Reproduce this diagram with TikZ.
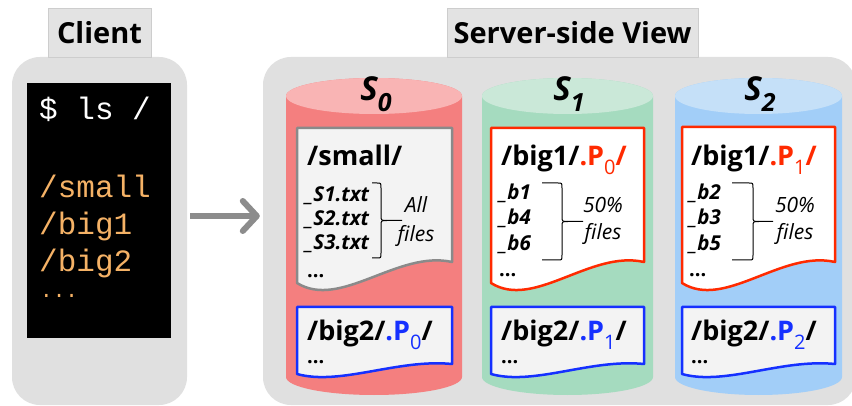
\documentclass[tikz,border=0pt]{standalone}
\usepackage{fontspec}
\setmainfont{Open Sans}
\setmonofont{Liberation Mono}
\usetikzlibrary{arrows.meta}

\definecolor{panel}{HTML}{E0E0E0}
\definecolor{tabfill}{HTML}{E3E3E3}
\definecolor{tabline}{HTML}{CDCDCD}
\definecolor{termtext}{HTML}{F5B266}
\definecolor{arrowgray}{HTML}{8C8C8C}
\definecolor{redtop}{HTML}{F9B4B4}
\definecolor{redbody}{HTML}{F47F7F}
\definecolor{greentop}{HTML}{CAE8D8}
\definecolor{greenbody}{HTML}{A5DBBF}
\definecolor{bluetop}{HTML}{C5E0F8}
\definecolor{bluebody}{HTML}{A2CEF8}
\definecolor{docfill}{HTML}{F3F3F3}
\definecolor{docgray}{HTML}{8A8A8A}
\definecolor{pred}{HTML}{FF2A00}
\definecolor{pblue}{HTML}{1530FF}

% document shape with a wavy lower edge
% #1 style, #2 left x, #3 right x, #4 top y, #5 lower-left y, #6 lower-right y, #7 wave depth
\newcommand\wavedoc[7]{%
  \draw[#1] (#2,#4) -- (#3,#4) -- (#3,#6)
    .. controls ({#2+0.65*(#3-#2)},{#6-0.45*#7}) and ({#2+0.28*(#3-#2)},{#5+#7}) .. (#2,#5) -- cycle;}

% thin curly brace opening to the left
% #1 arm x, #2 vertical x, #3 point x, #4 top y, #5 bottom y
\newcommand\filebrace[5]{%
  \pgfmathsetmacro\bmid{(#4+#5)/2}%
  \draw[line width=1pt] (#1,#4) -- ({#2-4},#4) .. controls (#2,#4) .. (#2,{#4+5})
    -- (#2,{\bmid-5}) .. controls (#2,\bmid) .. ({#2+6},\bmid) -- (#3,\bmid);
  \draw[line width=1pt] (#1,#5) -- ({#2-4},#5) .. controls (#2,#5) .. (#2,{#5-5})
    -- (#2,{\bmid+5}) .. controls (#2,\bmid) .. ({#2+6},\bmid);}

% cylinder: #1 left x, #2 right x, #3 top centre y, #4 bottom centre y, #5 body colour, #6 top colour
\newcommand\drum[6]{%
  \pgfmathsetmacro\drx{(#2-#1)/2}%
  \fill[#5] (#1,#3) -- (#1,#4) arc[start angle=180,end angle=360,x radius=\drx pt,y radius=18pt]
    -- (#2,#3) arc[start angle=0,end angle=180,x radius=\drx pt,y radius=18pt] -- cycle;
  \fill[#6] ({(#1+#2)/2},#3) ellipse[x radius=\drx pt,y radius=18pt];}

\newcommand\fs[1]{\fontsize{#1}{#1}\selectfont}

\tikzset{
  tab/.style={draw=tabline, fill=tabfill, line width=0.8pt, inner sep=0pt,
    font=\fs{29}\bfseries},
  panelbox/.style={fill=panel, rounded corners=28pt, inner sep=0pt},
  txt/.style={anchor=base west, inner sep=0pt},
  term/.style={txt, font=\fs{31}\ttfamily},
  head/.style={txt, font=\fs{27}\bfseries},
  item/.style={txt, font=\fs{20.5}\bfseries\itshape},
  note/.style={anchor=base, inner sep=0pt, font=\fs{21}\itshape},
  dots/.style={txt, font=\fs{20}\bfseries},
  srv/.style={anchor=center, inner sep=0pt, font=\fs{33}\bfseries\itshape},
  graydoc/.style={fill=docfill, draw=docgray, line width=2.5pt, line join=round},
  reddoc/.style={fill=white, draw=pred, line width=2.5pt, line join=round},
  bluedoc/.style={fill=docfill, draw=pblue, line width=2.5pt, line join=round},
  bigarrow/.style={draw=arrowgray, line width=6pt,
    -{Straight Barb[length=14pt, width=30pt, line cap=round, line join=round]}},
}

\newcommand\Pidx[1]{.P\raisebox{-0.3em}{\fs{20}\mdseries #1}}

\begin{document}
\begin{tikzpicture}[x=1pt,y=-1pt]
\clip (0,0) rectangle (852,406);
\fill[white] (0,0) rectangle (852,406);

% containers and their tabs
\node[panelbox, minimum width=175pt, minimum height=348pt] (client) at (99.5,231) {};
\node[panelbox, minimum width=593pt, minimum height=348pt] (server) at (559.5,231) {};
\node[tab, minimum width=103pt, minimum height=49pt] (clienttab) at (99.5,32.5) {Client};
\node[tab, minimum width=251pt, minimum height=49pt] (servertab) at (572.5,32.5) {Server-side View};

% terminal
\node[fill=black, minimum width=144pt, minimum height=255pt, inner sep=0pt] (terminal) at (99,210.5) {};
\node[term, text=white] (cmd) at (39,120) {\$ ls /};
\node[term, text=termtext] (lsmall) at (39,198) {/small};
\node[term, text=termtext] (lbig1) at (39,235) {/big1};
\node[term, text=termtext] (lbig2) at (39,272) {/big2};
\node[term, text=termtext, font=\fs{21}\ttfamily] (lmore) at (40,298) {\smash{...}};

% request arrow
\coordinate (arrowrow) at (0,216);
\draw[bigarrow, shorten <=3pt, shorten >=3pt] (client.east |- arrowrow) -- (server.west |- arrowrow);

% storage servers
\drum{286}{462}{96}{377}{redbody}{redtop}
\drum{482}{653}{96}{377}{greenbody}{greentop}
\drum{675}{842}{96}{377}{bluebody}{bluetop}

\node[srv] (s0) at (376,94) {S\raisebox{-0.33em}{\fs{25}0}};
\node[srv] (s1) at (569,94) {S\raisebox{-0.33em}{\fs{25}1}};
\node[srv] (s2) at (760,94) {S\raisebox{-0.33em}{\fs{25}2}};

% S0 contents
\wavedoc{graydoc}{297}{452}{128}{283}{262}{27}
\node[head] (s0small) at (307,166) {/small/};
\node[item] (s0f1) at (305,202) {\_S1.txt};
\node[item] (s0f2) at (305,226) {\_S2.txt};
\node[item] (s0f3) at (305,250) {\_S3.txt};
\node[dots] (s0more) at (307,278) {...};
\filebrace{372}{381}{402}{183}{258}
\node[note] (s0all) at (416,213) {All};
\node[note] (s0files) at (416,242) {files};
\wavedoc{bluedoc}{297}{452}{307}{374}{364}{12}
\node[head] (s0big2) at (307,341) {/big2/\textcolor{pblue}{\Pidx{0}}/};
\node[dots] (s0big2more) at (307,363) {...};

% S1 contents
\wavedoc{reddoc}{491}{644}{128}{283}{262}{27}
\node[head] (s1big1) at (501,166) {/big1/\textcolor{pred}{\Pidx{0}/}};
\node[item] (s1f1) at (499,200) {\_b1};
\node[item] (s1f2) at (499,225) {\_b4};
\node[item] (s1f3) at (499,251) {\_b6};
\node[dots] (s1more) at (499,277) {...};
\filebrace{542}{562}{583}{183}{260}
\node[note] (s1pct) at (603,213) {50\%};
\node[note] (s1files) at (603,240) {files};
\wavedoc{bluedoc}{491}{644}{307}{374}{364}{12}
\node[head] (s1big2) at (501,341) {/big2/\textcolor{pblue}{\Pidx{1}}/};
\node[dots] (s1big2more) at (501,363) {...};

% S2 contents
\wavedoc{reddoc}{682}{835}{127}{283}{262}{27}
\node[head] (s2big1) at (691,166) {/big1/\textcolor{pred}{\Pidx{1}/}};
\node[item] (s2f1) at (689,200) {\_b2};
\node[item] (s2f2) at (689,225) {\_b3};
\node[item] (s2f3) at (689,251) {\_b5};
\node[dots] (s2more) at (689,277) {...};
\filebrace{732}{753}{773}{183}{260}
\node[note] (s2pct) at (795,213) {50\%};
\node[note] (s2files) at (795,240) {files};
\wavedoc{bluedoc}{682}{835}{307}{374}{364}{12}
\node[head] (s2big2) at (691,341) {/big2/\textcolor{pblue}{\Pidx{2}}/};
\node[dots] (s2big2more) at (691,363) {...};
\end{tikzpicture}
\end{document}
